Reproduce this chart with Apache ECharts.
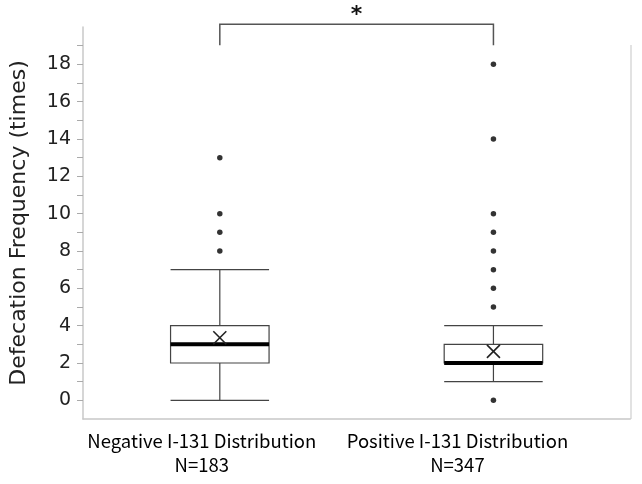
<!DOCTYPE html>
<html>
<head>
<meta charset="utf-8">
<script src="https://cdn.jsdelivr.net/npm/echarts@6/dist/echarts.min.js"></script>
<style>
html,body{margin:0;padding:0;background:#fff;}
#main{width:642px;height:484px;}
</style>
</head>
<body>
<div id="main"></div>
<script>
// data
var groups = ['Negative I-131 Distribution', 'Positive I-131 Distribution'];
var groupN = ['N=183', 'N=347'];
var boxNeg = [0, 2, 3, 4, 7];     // min, Q1, median, Q3, max
var boxPos = [1, 2, 2, 3, 4];
var meanVals = [3.35, 2.62];
var outNeg = [8, 9, 10, 13];
var outPos = [0, 5, 6, 7, 8, 9, 10, 14, 18];
var yLabels = [0, 2, 4, 6, 8, 10, 12, 14, 16, 18];
var yTicks = [0, 1, 2, 3, 4, 5, 6, 7, 8, 9, 10, 11, 12, 13, 14, 15, 16, 17, 18, 19];
var bracketLow = 19.02;
var bracketHigh = 20.15;

var outliers = [];
for (var i = 0; i < outNeg.length; i++) { outliers.push([0, outNeg[i]]); }
for (var j = 0; j < outPos.length; j++) { outliers.push([1, outPos[j]]); }

var medians = [[0, boxNeg[2]], [1, boxPos[2]]];
var means = [[0, meanVals[0]], [1, meanVals[1]]];

var labelFont = { color: '#000', fontFamily: 'Noto Sans CJK JP', fontSize: 18.5, lineHeight: 24 };

var myChart = echarts.init(document.getElementById('main'));
var option = {
	backgroundColor: '#fff',
	animation: false,
	grid: { left: 79, right: 11, top: 27, bottom: 65 },
	xAxis: {
		type: 'category',
		data: groups,
		boundaryGap: true,
		axisLine: { onZero: false, lineStyle: { color: '#c8c8c8', width: 1.5 } },
		axisTick: { show: false },
		axisLabel: {
			interval: 0,
			hideOverlap: false,
			margin: 10,
			formatter: function (value, idx) {
				var tag = idx === 0 ? 'a' : 'b';
				return '{' + tag + '|' + value + '}\n{' + tag + '|' + groupN[idx] + '}';
			},
			rich: {
				a: echarts.util.extend({ padding: [0, 36, 0, 0] }, labelFont),
				b: echarts.util.extend({ padding: [0, 72, 0, 0] }, labelFont)
			}
		}
	},
	yAxis: {
		type: 'value',
		min: -1,
		max: 20,
		interval: 1,
		name: 'Defecation Frequency (times)',
		nameLocation: 'middle',
		nameGap: 53,
		nameTextStyle: { color: '#222', fontFamily: 'DejaVu Sans', fontSize: 22 },
		splitLine: { show: false },
		axisLine: { show: true, onZero: false, lineStyle: { color: '#c8c8c8', width: 1.5 } },
		axisTick: { show: true, length: 6, customValues: yTicks, lineStyle: { color: '#aaa' } },
		axisLabel: { color: '#222', fontFamily: 'DejaVu Sans', fontSize: 19, margin: 12, customValues: yLabels }
	},
	graphic: [{
		type: 'line',
		shape: { x1: 631, y1: 45, x2: 631, y2: 419 },
		style: { stroke: '#d8d8d8', lineWidth: 1.5 }
	}],
	series: [
		{
			type: 'boxplot',
			data: [boxNeg, boxPos],
			boxWidth: ['36%', '36%'],
			itemStyle: { color: '#fff', borderColor: '#444', borderWidth: 1.2 },
			silent: true
		},
		{
			// 中位数粗线
			type: 'custom',
			data: medians,
			renderItem: function (params, api) {
				var p = api.coord([api.value(0), api.value(1)]);
				var hw = api.size([1, 0])[0] * 0.18;
				return {
					type: 'line',
					shape: { x1: p[0] - hw, y1: p[1], x2: p[0] + hw, y2: p[1] },
					style: { stroke: '#000', lineWidth: 4 }
				};
			},
			z: 5
		},
		{
			// 平均值 X
			type: 'custom',
			data: means,
			renderItem: function (params, api) {
				var p = api.coord([api.value(0), api.value(1)]);
				var s = 6.5;
				return {
					type: 'group',
					children: [
						{ type: 'line', shape: { x1: p[0] - s, y1: p[1] - s, x2: p[0] + s, y2: p[1] + s }, style: { stroke: '#222', lineWidth: 1.6 } },
						{ type: 'line', shape: { x1: p[0] - s, y1: p[1] + s, x2: p[0] + s, y2: p[1] - s }, style: { stroke: '#222', lineWidth: 1.6 } }
					]
				};
			},
			z: 6
		},
		{
			type: 'scatter',
			data: outliers,
			symbol: 'circle',
			symbolSize: 5.5,
			itemStyle: { color: '#000' },
			silent: true
		},
		{
			// 显著性括号
			type: 'custom',
			data: [[0, 1]],
			clip: false,
			renderItem: function (params, api) {
				var a = api.coord([0, bracketLow]);
				var b = api.coord([0, bracketHigh]);
				var c = api.coord([1, bracketHigh]);
				var d = api.coord([1, bracketLow]);
				return {
					type: 'group',
					children: [
						{ type: 'polyline', shape: { points: [a, b, c, d] }, style: { stroke: '#555', lineWidth: 1.5, fill: null } },
						{ type: 'text', x: (b[0] + c[0]) / 2, y: 4, style: { text: '*', fontFamily: 'DejaVu Sans', fontSize: 22, fontWeight: 'bold', fill: '#111', align: 'center', verticalAlign: 'top' } }
					]
				};
			}
		}
	]
};
myChart.setOption(option);
</script>
</body>
</html>
